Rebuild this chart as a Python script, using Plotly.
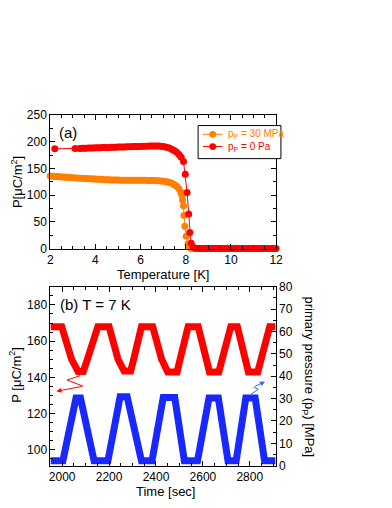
import plotly.graph_objects as go

# ---- panel (a): P vs temperature ----
red_T = [2.2, 3.1,
         3.3, 3.4, 3.5, 3.6, 3.7, 3.8, 3.9, 4.0, 4.1, 4.2, 4.3, 4.4, 4.5, 4.6, 4.7, 4.8, 4.9,
         5.0, 5.1, 5.2, 5.3, 5.4, 5.5, 5.6, 5.7, 5.8, 5.9, 6.0, 6.1, 6.2, 6.3, 6.4, 6.5, 6.6,
         6.7, 6.8, 6.9, 7.0, 7.1, 7.2, 7.3, 7.4, 7.5, 7.6, 7.7, 7.8, 7.9,
         7.98, 8.06, 8.13, 8.18, 8.24, 8.32, 8.42,
         8.5, 8.6, 8.7, 8.8, 8.9, 9.0, 9.1, 9.2, 9.3, 9.4, 9.5, 9.6, 9.7, 9.8, 9.9, 10.0,
         10.1, 10.2, 10.3, 10.4, 10.5, 10.6, 10.7, 10.8, 10.9, 11.0, 11.1, 11.2, 11.3, 11.4,
         11.5, 11.6, 11.7, 11.8, 11.9, 12.0]
red_P = [186.5, 187,
         187, 187.5, 187.5, 187.5, 188, 188, 188, 188.5, 188.5, 188.5, 189, 189, 189, 189, 189.5, 189.5, 189.5,
         190, 190, 190, 190, 190.5, 190.5, 190.5, 191, 191, 191, 191, 191.5, 191.5, 191.5, 192, 192, 192,
         192, 192, 191.5, 191, 190, 189, 187.5, 185.5, 183, 180, 176, 171, 163,
         139, 105, 65, 30, 10, 3, 1,
         0.5, 0.4, 0.5, 0.3, 0.4, 0.5, 0.4, 0.3, 0.4, 0.5, 0.4, 0.3, 0.4, 0.4, 0.3, 0.5,
         0.4, 0.3, 0.4, 0.4, 0.3, 0.4, 0.5, 0.3, 0.4, 0.4, 0.3, 0.4, 0.4, 0.3,
         0.4, 0.5, 0.3, 0.4, 0.4, 0.3]

org_T = [2.0, 2.1, 2.2, 2.3, 2.4, 2.5, 2.6, 2.7, 2.8, 2.9,
         3.0, 3.1, 3.2, 3.3, 3.4, 3.5, 3.6, 3.7, 3.8, 3.9,
         4.0, 4.1, 4.2, 4.3, 4.4, 4.5, 4.6, 4.7, 4.8, 4.9,
         5.0, 5.1, 5.2, 5.3, 5.4, 5.5, 5.6, 5.7, 5.8, 5.9,
         6.0, 6.1, 6.2, 6.3, 6.4, 6.5, 6.6, 6.7, 6.8, 6.9,
         7.0, 7.1, 7.2, 7.3, 7.4, 7.5, 7.6, 7.7,
         7.78, 7.83, 7.86, 7.9, 7.92, 7.96, 8.02, 8.1, 8.17, 8.25,
         8.3, 8.4, 8.5, 8.6, 8.7, 8.8, 8.9, 9.0, 9.1, 9.2, 9.3,
         9.4, 9.5, 9.6, 9.7, 9.8, 9.9, 10.0, 10.1, 10.2, 10.3, 10.4]
org_P = [136, 135.5, 135, 135, 134.5, 134, 134, 133.5, 133, 133,
         132.5, 132, 132, 131.5, 131.5, 131, 131, 130.5, 130.5, 130,
         130, 129.5, 129.5, 129.5, 129, 129, 129, 128.5, 128.5, 128.5,
         128.5, 128, 128, 128, 128, 128, 128, 128, 128, 128,
         128, 128, 128, 127.5, 127.5, 127.5, 127.5, 127, 127, 126.5,
         126, 125.5, 124.5, 123.5, 122, 119.5, 116.5, 112,
         106, 100, 91, 80, 62, 42, 23, 9, 2, 0.5,
         0.4, 0.5, 0.4, 0.6, 0.5, 0.4, 0.5, 0.6, 0.5, 0.4, 0.5,
         0.6, 0.5, 0.4, 0.5, 0.6, 0.5, 0.4, 0.5, 0.6, 0.5, 0.4]

# ---- panel (b): P and primary pressure vs time ----
time_P = [1950, 1998, 2012, 2040, 2068, 2090, 2105, 2135, 2152,
          2200, 2212, 2238, 2264, 2292, 2303, 2325, 2338,
          2386, 2398, 2424, 2450, 2490, 2501, 2524, 2537,
          2580, 2590, 2610, 2628, 2668, 2680, 2704, 2719,
          2747, 2757, 2776, 2794, 2834, 2846, 2871, 2885, 2910]
P_val = [168, 168, 162, 150, 143.2, 143.2, 149, 163, 168,
         168, 162, 150, 143.5, 143.5, 149, 163, 168,
         168, 162, 150, 143, 143, 149, 163, 168,
         168, 162, 150, 143, 143, 149, 163, 168,
         168, 162, 150, 143, 143, 149, 163, 168, 168]

time_pp = [1950, 2003, 2059, 2078, 2136, 2195, 2247, 2277, 2338, 2383,
           2431, 2480, 2521, 2577, 2626, 2666, 2707, 2742, 2783, 2823, 2863, 2910]
pp_val = [2.2, 2.2, 30.3, 30.3, 2.2, 2.2, 30.8, 30.8, 2.2, 2.2,
          30.5, 30.5, 2.2, 2.2, 30.3, 30.3, 2.2, 2.2, 30.3, 30.3, 2.2, 2.2]

# zigzag arrows (time, value)
zig_red_t = [2076, 2021, 2090]
zig_red_y = [140.9, 138.5, 135.1]
zig_red_head = (1975, 132.3)
zig_blue_t = [2805, 2836, 2816]
zig_blue_y = [32, 34.2, 35.2]
zig_blue_head = (2865, 37.6)

legend_names = ['p<sub>P</sub> = 30 MPa', 'p<sub>P</sub> = 0 Pa']

RED = 'rgb(255,0,0)'
ORANGE = 'rgb(255,128,0)'
BLUE = 'rgb(25,40,255)'
ZIGBLUE = 'rgb(60,100,255)'
FONT = 'Liberation Sans, Arial, sans-serif'
W, H = 392, 508
OFF = 8  # page margin around the plot div


def px(x):
    return (x - OFF) / W


def py(y):
    return 1 - (y - OFF) / H


fig = go.Figure()
fig.add_trace(go.Scatter(
    x=org_T, y=org_P, mode='lines+markers', cliponaxis=False, showlegend=False,
    line=dict(color=ORANGE, width=1), marker=dict(color=ORANGE, size=7),
    xaxis='x', yaxis='y'))
fig.add_trace(go.Scatter(
    x=red_T, y=red_P, mode='lines+markers', cliponaxis=False, showlegend=False,
    line=dict(color=RED, width=1), marker=dict(color=RED, size=7),
    xaxis='x', yaxis='y'))

fig.add_trace(go.Scatter(
    x=time_P, y=P_val, mode='lines', showlegend=False,
    line=dict(color=RED, width=7), xaxis='x2', yaxis='y2'))
fig.add_trace(go.Scatter(
    x=time_pp, y=pp_val, mode='lines', showlegend=False,
    line=dict(color=BLUE, width=7), xaxis='x2', yaxis='y3'))
fig.add_trace(go.Scatter(
    x=zig_red_t, y=zig_red_y, mode='lines', showlegend=False,
    line=dict(color=RED, width=1), xaxis='x2', yaxis='y2'))
fig.add_trace(go.Scatter(
    x=zig_blue_t, y=zig_blue_y, mode='lines', showlegend=False,
    line=dict(color=ZIGBLUE, width=1), xaxis='x2', yaxis='y3'))

tick = dict(ticks='inside', ticklen=5, tickcolor='black', showline=True,
            linecolor='black', linewidth=1, showgrid=False, zeroline=False,
            tickfont=dict(size=12, color='black'))

fig.update_layout(
    width=W, height=H,
    margin=dict(l=0, r=0, t=0, b=0),
    paper_bgcolor='white', plot_bgcolor='white',
    font=dict(family=FONT, color='black'),
    xaxis=dict(domain=[px(48.3), px(280)], range=[2, 12], dtick=2, anchor='y',
               mirror='ticks', minor=dict(dtick=0.5, ticklen=3, ticks='inside'), **tick),
    yaxis=dict(domain=[py(248.3), py(110.7)], range=[0, 250], dtick=50, anchor='x',
               mirror='ticks', minor=dict(dtick=25, ticklen=3, ticks='inside'), **tick),
    xaxis2=dict(domain=[px(48.5), px(279.5)], range=[1950, 2910], dtick=200, anchor='y2',
                mirror='ticks', minor=dict(dtick=50, ticklen=3, ticks='inside'), **tick),
    yaxis2=dict(domain=[py(471.5), py(287.5)], range=[91.2, 190], dtick=20, anchor='x2',
                minor=dict(dtick=5, ticklen=3, ticks='inside'), **tick),
    yaxis3=dict(range=[0, 80], dtick=10, anchor='x2', overlaying='y2', side='right',
                minor=dict(dtick=5, ticklen=3, ticks='inside'), **tick),
)

ann = [
    dict(text='Temperature [K]', x=px(164), y=py(275), font=dict(size=13)),
    dict(text='P[μC/m<sup>2</sup>]', x=px(14), y=py(180), textangle=-90, font=dict(size=13)),
    dict(text='Time [sec]', x=px(167), y=py(498), font=dict(size=13)),
    dict(text='P [μC/m<sup>2</sup>]', x=px(12), y=py(378), textangle=-90, font=dict(size=13)),
    dict(text='primary pressure (p<sub>P</sub>) [MPa]', x=px(313), y=py(380),
         textangle=90, font=dict(size=13)),
    dict(text='(a)', x=px(66), y=py(129), font=dict(size=15)),
    dict(text='(b) T = 7 K', x=px(95), y=py(306), font=dict(size=15)),
]
for a in ann:
    fig.add_annotation(xref='paper', yref='paper', showarrow=False,
                       xanchor='center', yanchor='middle', **a)

# legend box drawn by hand to match the compact original
fig.add_shape(type='rect', xref='paper', yref='paper',
              x0=px(200), x1=px(285), y0=py(155.7), y1=py(121.7),
              line=dict(color='black', width=1), fillcolor='white')
for name, col, yy in zip(legend_names, [ORANGE, RED], [130.7, 143.3]):
    fig.add_shape(type='line', xref='paper', yref='paper',
                  x0=px(205), x1=px(225), y0=py(yy), y1=py(yy),
                  line=dict(color=col, width=1))
    fig.add_shape(type='circle', xref='paper', yref='paper',
                  x0=px(211.5), x1=px(218.5), y0=py(yy + 3.5), y1=py(yy - 3.5),
                  line=dict(color=col, width=0), fillcolor=col)
    fig.add_annotation(xref='paper', yref='paper', x=px(229), y=py(yy), text=name,
                       showarrow=False, xanchor='left', yanchor='middle',
                       font=dict(size=10, color=col))

fig.add_annotation(x=zig_red_head[0], y=zig_red_head[1], ax=zig_red_t[-1], ay=zig_red_y[-1],
                   xref='x2', yref='y2', axref='x2', ayref='y2', text='', showarrow=True,
                   arrowhead=2, arrowsize=1, arrowwidth=1, arrowcolor=RED)
fig.add_annotation(x=zig_blue_head[0], y=zig_blue_head[1], ax=zig_blue_t[-1], ay=zig_blue_y[-1],
                   xref='x2', yref='y3', axref='x2', ayref='y3', text='', showarrow=True,
                   arrowhead=2, arrowsize=1, arrowwidth=1, arrowcolor=ZIGBLUE)

fig.write_html("out.html")
